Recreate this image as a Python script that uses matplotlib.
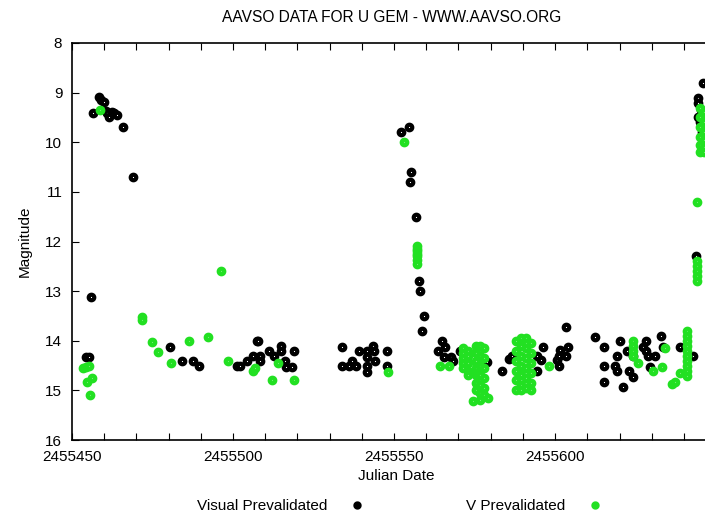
import matplotlib.pyplot as plt
from matplotlib.ticker import MultipleLocator, FixedLocator

plt.rcParams['font.family'] = ['Liberation Sans', 'DejaVu Sans']

# Visual Prevalidated (black)
vis_jd = [2455454.5, 2455455.3, 2455455.9,
          2455456.5, 2455458.4, 2455459.0, 2455459.9, 2455460.5, 2455461.0, 2455461.5,
          2455462.5, 2455463.0, 2455464.0, 2455465.8, 2455468.9,
          2455480.4, 2455484.2, 2455487.6, 2455489.4,
          2455501.2, 2455502.2, 2455504.3, 2455506.2, 2455507.3, 2455507.8, 2455508.4,
          2455508.4, 2455511.2, 2455512.7, 2455514.9, 2455514.9, 2455516.1, 2455516.5,
          2455518.3, 2455518.9,
          2455533.9, 2455533.9, 2455536.0, 2455537.0, 2455538.2, 2455539.1, 2455541.6,
          2455541.6, 2455541.6, 2455541.6, 2455543.5, 2455543.8, 2455544.1, 2455547.8,
          2455547.8,
          2455552.2, 2455554.7, 2455555.3, 2455555.0, 2455556.8, 2455557.8, 2455558.1,
          2455559.3, 2455558.7,
          2455563.7, 2455564.9, 2455565.5, 2455565.8, 2455567.7, 2455568.3, 2455570.5,
          2455578.9, 2455583.5, 2455585.7, 2455586.6, 2455594.4, 2455594.4, 2455595.7,
          2455596.3, 2455600.6, 2455601.2, 2455601.6, 2455601.2, 2455603.4, 2455604.0,
          2455603.4,
          2455612.4, 2455615.2, 2455615.2, 2455615.2, 2455618.6, 2455619.3, 2455619.3,
          2455620.2, 2455621.1, 2455622.4, 2455623.0, 2455624.2, 2455624.2, 2455627.3,
          2455628.3, 2455628.3, 2455628.9, 2455629.5, 2455631.1, 2455632.9, 2455633.5,
          2455638.8, 2455642.9,
          2455643.8, 2455644.4, 2455644.4, 2455644.4, 2455646.0, 2455645.0, 2455645.5,
          2455646.3, 2455645.2]
vis_mag = [14.33, 14.33, 13.12,
           9.41, 9.09, 9.15, 9.19, 9.38, 9.42, 9.49,
           9.39, 9.42, 9.45, 9.69, 10.7,
           14.13, 14.41, 14.41, 14.51,
           14.51, 14.51, 14.41, 14.31, 14.0, 14.0, 14.31,
           14.41, 14.21, 14.31, 14.1, 14.2, 14.41, 14.53,
           14.53, 14.21,
           14.13, 14.51, 14.51, 14.41, 14.51, 14.21, 14.21,
           14.33, 14.51, 14.63, 14.11, 14.21, 14.41, 14.21,
           14.51,
           9.8, 9.7, 10.6, 10.8, 11.5, 12.8, 13.0,
           13.5, 13.8,
           14.21, 14.0, 14.33, 14.13, 14.33, 14.41, 14.21,
           14.42, 14.6, 14.36, 14.31, 14.6, 14.31, 14.39,
           14.12, 14.39, 14.31, 14.19, 14.51, 13.72, 14.12,
           14.31,
           13.92, 14.12, 14.51, 14.83, 14.51, 14.6, 14.31,
           14.0, 14.93, 14.21, 14.6, 14.73, 14.31, 14.12,
           14.0, 14.21, 14.31, 14.52, 14.31, 13.9, 14.12,
           14.12, 14.31,
           12.3, 9.1, 9.2, 9.5, 8.8, 9.6, 9.8,
           10.1, 9.35]

# V Prevalidated (green)
v_jd = [2455453.5, 2455454.5, 2455455.3, 2455454.8, 2455456.2, 2455455.7, 2455458.7,
        2455471.7, 2455471.7, 2455474.8, 2455476.7, 2455480.7, 2455486.3, 2455492.2,
        2455496.3, 2455498.4,
        2455506.2, 2455506.7, 2455512.1, 2455514.0, 2455518.9, 2455548.1,
        2455553.1,
        2455557.1, 2455557.1, 2455557.1, 2455557.1, 2455557.1, 2455557.1, 2455557.1,
        2455564.3, 2455567.1,
        2455571.5, 2455571.5, 2455571.5, 2455571.5, 2455571.5,
        2455573.0, 2455573.0, 2455573.0, 2455573.0, 2455573.0,
        2455575.5, 2455575.5, 2455575.5, 2455575.5, 2455575.5, 2455575.5, 2455575.5,
        2455576.7, 2455576.7, 2455576.7, 2455576.7, 2455576.7, 2455576.7, 2455576.7,
        2455578.0, 2455578.0, 2455578.0, 2455578.0, 2455578.0, 2455578.0,
        2455574.5, 2455579.2,
        2455588.0, 2455588.0, 2455588.0, 2455588.0, 2455588.0, 2455588.0,
        2455589.5, 2455589.5, 2455589.5, 2455589.5, 2455589.5, 2455589.5, 2455589.5,
        2455591.0, 2455591.0, 2455591.0, 2455591.0, 2455591.0, 2455591.0, 2455591.0,
        2455592.5, 2455592.5, 2455592.5, 2455592.5, 2455592.5, 2455592.5,
        2455598.1,
        2455624.2, 2455624.2, 2455624.2, 2455624.2,
        2455625.8, 2455630.4, 2455633.2, 2455634.2, 2455636.3, 2455637.3, 2455638.8,
        2455641.0, 2455641.0, 2455641.0, 2455641.0, 2455641.0, 2455641.0, 2455641.0,
        2455641.0, 2455641.0, 2455641.0,
        2455644.1, 2455644.1, 2455644.1, 2455644.1, 2455644.1,
        2455644.2,
        2455645.0, 2455645.0, 2455645.0, 2455645.0, 2455645.0, 2455645.0,
        2455646.3, 2455646.3, 2455646.3, 2455646.3, 2455646.3, 2455646.3]
v_mag = [14.55, 14.53, 14.5, 14.83, 14.75, 15.1, 9.35,
         13.52, 13.58, 14.03, 14.23, 14.45, 14.0, 13.93,
         12.6, 14.4,
         14.6, 14.55, 14.8, 14.45, 14.8, 14.62,
         10.0,
         12.1, 12.15, 12.2, 12.25, 12.3, 12.38, 12.45,
         14.51, 14.51,
         14.15, 14.25, 14.35, 14.45, 14.55,
         14.2, 14.3, 14.45, 14.6, 14.7,
         14.1, 14.25, 14.4, 14.55, 14.7, 14.85, 15.0,
         14.1, 14.3, 14.5, 14.7, 14.9, 15.05, 15.2,
         14.15, 14.35, 14.55, 14.75, 14.95, 15.1,
         15.22, 15.15,
         14.0, 14.2, 14.4, 14.6, 14.8, 15.0,
         13.95, 14.1, 14.3, 14.5, 14.7, 14.9, 15.0,
         13.95, 14.15, 14.35, 14.55, 14.75, 14.95, 14.05,
         14.05, 14.25, 14.45, 14.65, 14.85, 15.0,
         14.5,
         14.0, 14.1, 14.2, 14.3,
         14.45, 14.6, 14.52, 14.15, 14.87, 14.83, 14.65,
         13.8, 13.9, 14.0, 14.1, 14.2, 14.3, 14.4, 14.5, 14.6, 14.72,
         12.4, 12.5, 12.6, 12.7, 12.8,
         11.2,
         9.3, 9.5, 9.7, 9.9, 10.05, 10.2,
         9.4, 9.6, 9.8, 9.95, 10.1, 10.2]

x_ticks = [2455450, 2455500, 2455550, 2455600]
title = 'AAVSO DATA FOR U GEM - WWW.AAVSO.ORG'
green = '#22e022'

fig = plt.figure(figsize=(7.05, 5.13), dpi=100)
ax = fig.add_axes([72 / 705, 73 / 513, 648 / 705, 397 / 513])

# gnuplot-like point: thick ring with a small light centre
ax.plot(vis_jd, vis_mag, 'o', ms=4.0, mfc='white', mec='black', mew=3.0,
        label='Visual Prevalidated')
ax.plot(v_jd, v_mag, 'o', ms=4.0, mfc='#70f070', mec=green, mew=3.0,
        label='V Prevalidated')

ax.set_xlim(2455450, 2455651.2)
ax.set_ylim(16, 8)
ax.xaxis.set_major_locator(FixedLocator(x_ticks))
ax.xaxis.set_minor_locator(MultipleLocator(10))
ax.yaxis.set_major_locator(MultipleLocator(1))
ax.ticklabel_format(axis='x', useOffset=False, style='plain')
ax.tick_params(which='both', direction='in', top=True, right=True,
               length=5, width=0.8, labelsize=11, pad=7)
for s in ax.spines.values():
    s.set_linewidth(1.2)

ax.set_xlabel('Julian Date', fontsize=11, labelpad=4)
ax.set_ylabel('Magnitude', fontsize=11, labelpad=10)
fig.text(392 / 705, 1 - 18 / 513, title, ha='center', va='center', fontsize=11.2)

fig.legend(loc='center', bbox_to_anchor=(402 / 705, 1 - 506 / 513), ncol=2,
           frameon=False, markerfirst=False, fontsize=11, markerscale=0.75,
           handlelength=1.5, handletextpad=1.2, columnspacing=6.4)

fig.savefig('out.png', dpi=100)
